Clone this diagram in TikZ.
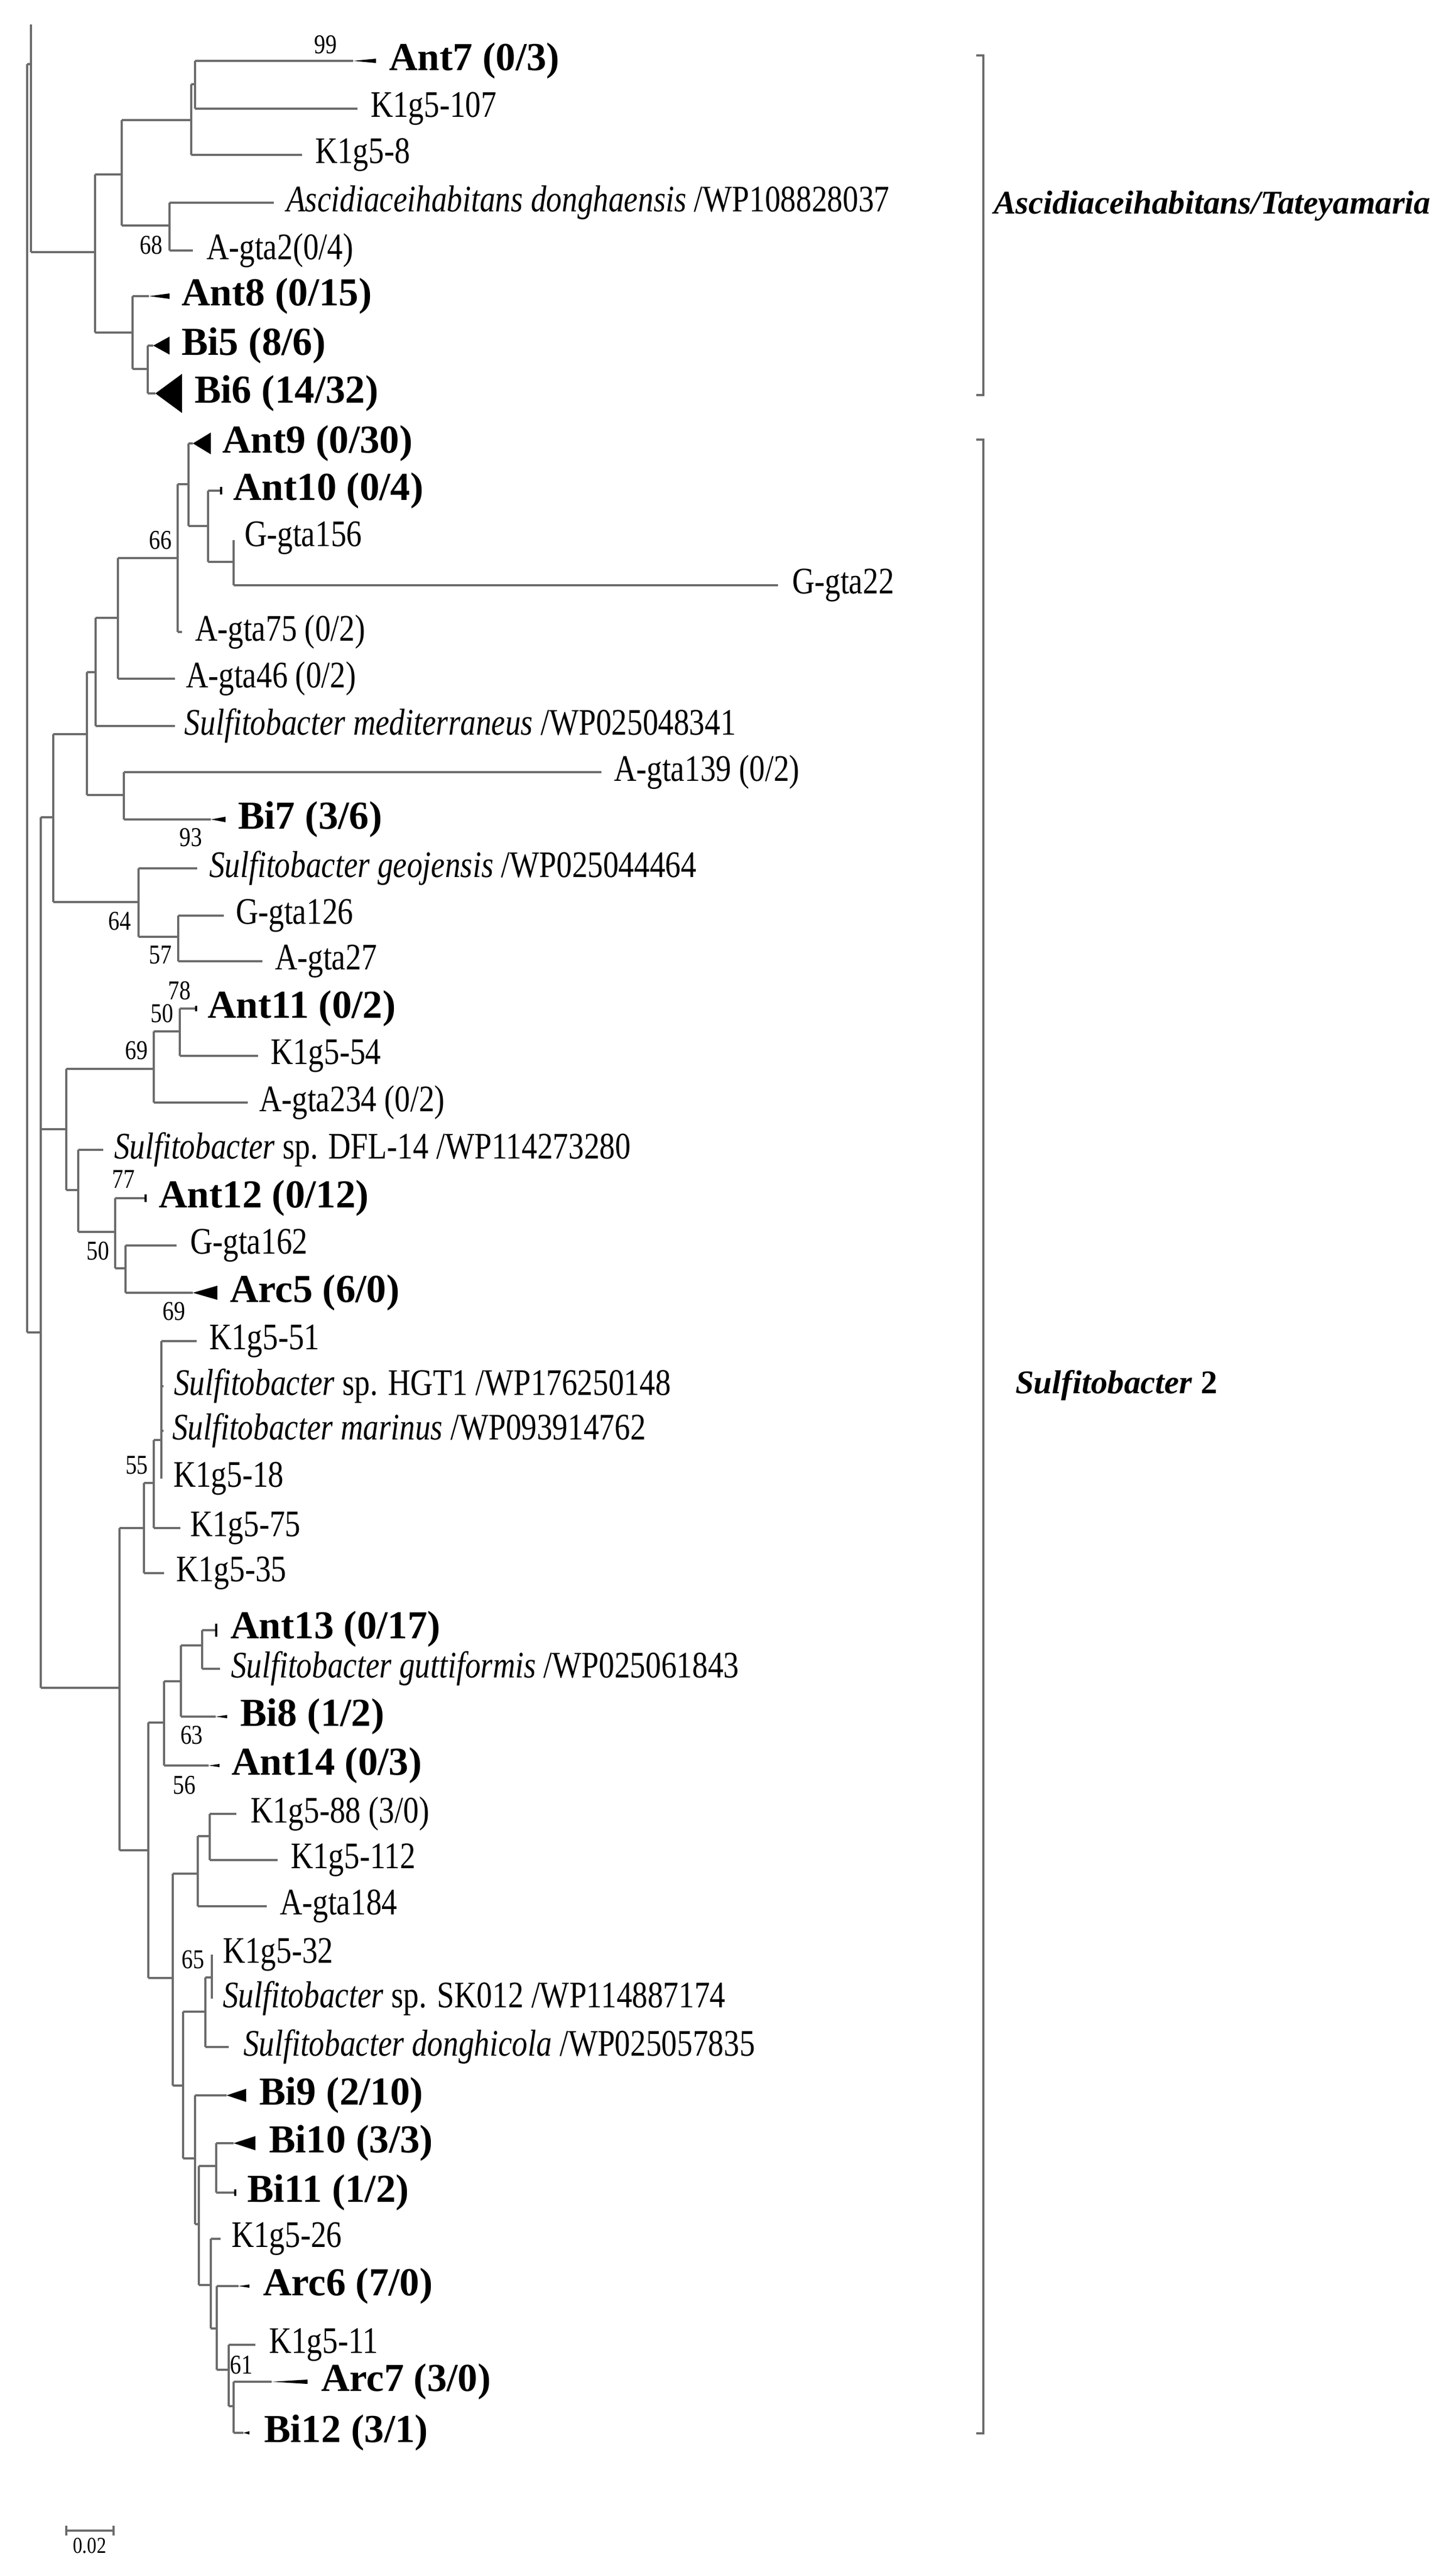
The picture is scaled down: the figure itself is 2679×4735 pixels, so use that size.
\documentclass[tikz,border=0pt]{standalone}
\usepackage{fontspec}
\setmainfont{Liberation Serif}
\newfontfamily\narrowf{Liberation Serif}[FakeStretch=0.83]
\definecolor{brc}{gray}{0.42}
\tikzset{
  br/.style={draw=brc,line width=0.32pt},
  lbl/.style={anchor=west,inner sep=0pt,font=\fontsize{6.9}{7}\narrowf},
  blbl/.style={anchor=west,inner sep=0pt,font=\fontsize{7.3}{8}\selectfont\bfseries},
  boot/.style={inner sep=0pt,font=\fontsize{5}{6}\narrowf},
  clade/.style={anchor=west,inner sep=0pt,font=\fontsize{6.1}{7}\selectfont\bfseries},
}
\newcommand\lf[4]{\node[lbl] (#1) at (#2,#3) {#4};}
\newcommand\bl[4]{\node[blbl] (#1) at (#2,#3) {#4};}
\newcommand\bs[4]{\node[boot] (#1) at (#2,#3) {#4};}
\newcommand\tri[4]{\fill[black] (#1,#3) -- (#2,#3-#4/2) -- (#2,#3+#4/2) -- cycle;}
\newcommand\sfb{\textit{Sulfitobacter}}
\begin{document}
\begin{tikzpicture}[x=0.1pt,y=-0.1pt]
\useasboundingbox (0,0) rectangle (2679,4735);
% root
\draw[br] (50,118)--(50,2452) (50,118)--(57,118) (57,45)--(57,464) (57,464)--(175,464) (50,2452)--(75,2452);
% Ascidiaceihabitans clade
\draw[br] (175,321)--(175,612) (175,321)--(224,321) (224,221)--(224,415) (224,221)--(352,221)
 (352,155)--(352,285) (352,155)--(359,155) (359,112)--(359,200) (359,112)--(650,112)
 (359,200)--(658,200) (352,285)--(556,285) (224,415)--(312,415) (312,373)--(312,461)
 (312,373)--(504,373) (312,461)--(355,461)
 (175,612)--(244,612) (244,545)--(244,679) (244,545)--(274,545) (244,679)--(272,679)
 (272,636)--(272,724) (272,636)--(282,636) (272,724)--(286,724);
\tri{650}{692}{112}{8}\tri{274}{312}{545}{10}\tri{282}{312}{636}{33}\tri{286}{335}{724}{72}
\bl{ant7}{714}{112}{Ant7 (0/3)}
\lf{k107}{680}{200}{K1g5-107}
\lf{k8}{578}{285}{K1g5-8}
\lf{ascd}{525}{373}{\textit{Ascidiaceihabitans donghaensis} /WP108828037}
\lf{ag2}{378}{461}{A-gta2(0/4)}
\bl{ant8}{332}{545}{Ant8 (0/15)}
\bl{bi5}{332}{636}{Bi5 (8/6)}
\bl{bi6}{356}{724}{Bi6 (14/32)}
\bs{b99}{599}{82}{99}
\bs{b68}{278}{451}{68}
% Sulfitobacter 2 clade
\draw[br] (75,1504)--(75,3106) (75,1504)--(98,1504) (75,2078)--(122,2078) (75,3106)--(220,3106)
 (98,1351)--(98,1660) (98,1351)--(160,1351) (98,1660)--(255,1660)
 (160,1237)--(160,1463) (160,1237)--(176,1237) (160,1463)--(228,1463)
 (176,1137)--(176,1336) (176,1137)--(217,1137) (176,1336)--(322,1336)
 (217,1027)--(217,1249) (217,1027)--(327,1027) (217,1249)--(322,1249)
 (327,891)--(327,1163) (327,891)--(347,891) (327,1163)--(335,1163)
 (347,816)--(347,968) (347,816)--(355,816) (347,968)--(383,968)
 (383,903)--(383,1034) (383,903)--(407,903) (383,1034)--(430,1034)
 (430,994)--(430,1077) (430,1077)--(1432,1077)
 (228,1421)--(228,1508) (228,1421)--(1107,1421) (228,1508)--(388,1508)
 (255,1598)--(255,1724) (255,1598)--(363,1598) (255,1724)--(328,1724)
 (328,1685)--(328,1769) (328,1685)--(412,1685) (328,1769)--(483,1769)
 (122,1967)--(122,2190) (122,1967)--(283,1967) (122,2190)--(144,2190)
 (283,1898)--(283,2029) (283,1898)--(331,1898) (283,2029)--(456,2029)
 (331,1856)--(331,1943) (331,1856)--(361,1856) (331,1943)--(475,1943)
 (144,2116)--(144,2267) (144,2116)--(190,2116) (144,2267)--(212,2267)
 (212,2205)--(212,2334) (212,2205)--(268,2205) (212,2334)--(231,2334)
 (231,2292)--(231,2379) (231,2292)--(325,2292) (231,2379)--(355,2379)
 (220,2812)--(220,3405) (220,2812)--(265,2812)
 (265,2729)--(265,2895) (265,2729)--(283,2729) (265,2895)--(302,2895)
 (283,2650)--(283,2812) (283,2650)--(297,2650) (283,2812)--(332,2812)
 (297,2468)--(297,2721) (297,2468)--(362,2468) (297,2551)--(301,2551) (297,2633)--(301,2633)
 (220,3405)--(273,3405) (273,3170)--(273,3640) (273,3170)--(302,3170)
 (302,3094)--(302,3249) (302,3094)--(333,3094) (302,3249)--(384,3249)
 (333,3028)--(333,3159) (333,3028)--(372,3028) (333,3159)--(397,3159)
 (372,3000)--(372,3071) (372,3000)--(398,3000) (372,3071)--(405,3071)
 (273,3640)--(318,3640) (318,3448)--(318,3838) (318,3448)--(364,3448) (318,3838)--(337,3838)
 (364,3379)--(364,3508) (364,3379)--(386,3379) (364,3508)--(491,3508)
 (386,3338)--(386,3423) (386,3338)--(435,3338) (386,3423)--(511,3423)
 (337,3702)--(337,3972) (337,3702)--(378,3702) (337,3972)--(359,3972)
 (378,3639)--(378,3767) (378,3639)--(390,3639) (378,3767)--(421,3767)
 (390,3597)--(390,3678)
 (359,3856)--(359,4093) (359,3856)--(417,3856) (359,4093)--(366,4093)
 (366,3986)--(366,4205) (366,3986)--(398,3986) (366,4205)--(388,4205)
 (398,3944)--(398,4035) (398,3944)--(430,3944) (398,4035)--(433,4035)
 (388,4120)--(388,4285) (388,4120)--(406,4120) (388,4285)--(399,4285)
 (399,4207)--(399,4361) (399,4207)--(439,4207) (399,4361)--(421,4361)
 (421,4315)--(421,4428) (421,4315)--(470,4315) (421,4428)--(430,4428)
 (430,4383)--(430,4477) (430,4383)--(500,4383) (430,4477)--(448,4477);
\draw[black,line width=0.35pt] (407,896)--(407,910) (361,1851)--(361,1861) (268,2198)--(268,2212) (398,2988)--(398,3012) (433,4029)--(433,4041);
\tri{355}{388}{816}{40}\tri{388}{415}{1508}{10}\tri{355}{400}{2379}{26}
\tri{384}{404}{3249}{6}\tri{397}{418}{3159}{6}\tri{417}{453}{3856}{24}
\tri{430}{470}{3944}{26}\tri{439}{459}{4207}{6}\tri{500}{566}{4383}{8}\tri{448}{459}{4477}{6}
\bl{ant9}{407}{816}{Ant9 (0/30)}
\bl{ant10}{427}{903}{Ant10 (0/4)}
\lf{g156}{448}{990}{G-gta156}
\lf{g22}{1456}{1077}{G-gta22}
\lf{a75}{357}{1163}{A-gta75 (0/2)}
\lf{a46}{340}{1249}{A-gta46 (0/2)}
\lf{smed}{338}{1336}{\textit{Sulfitobacter mediterraneus} /WP025048341}
\lf{a139}{1128}{1421}{A-gta139 (0/2)}
\bl{bi7}{436}{1508}{Bi7 (3/6)}
\lf{sgeo}{383}{1598}{\textit{Sulfitobacter geojensis} /WP025044464}
\lf{g126}{432}{1685}{G-gta126}
\lf{a27}{504}{1769}{A-gta27}
\bl{ant11}{380}{1856}{Ant11 (0/2)}
\lf{k54}{496}{1943}{K1g5-54}
\lf{a234}{475}{2029}{A-gta234 (0/2)}
\lf{sdfl}{208}{2116}{\sfb{} sp. DFL-14 /WP114273280}
\bl{ant12}{290}{2205}{Ant12 (0/12)}
\lf{g162}{348}{2292}{G-gta162}
\bl{arc5}{421}{2379}{Arc5 (6/0)}
\lf{k51}{383}{2468}{K1g5-51}
\lf{shgt}{318}{2551}{\sfb{} sp. HGT1 /WP176250148}
\lf{smar}{315}{2633}{\textit{Sulfitobacter marinus} /WP093914762}
\lf{k18}{317}{2721}{K1g5-18}
\lf{k75}{348}{2812}{K1g5-75}
\lf{k35}{322}{2895}{K1g5-35}
\bl{ant13}{422}{2998}{Ant13 (0/17)}
\lf{sgut}{423}{3071}{\textit{Sulfitobacter guttiformis} /WP025061843}
\bl{bi8}{440}{3159}{Bi8 (1/2)}
\bl{ant14}{424}{3249}{Ant14 (0/3)}
\lf{k88}{459}{3338}{K1g5-88 (3/0)}
\lf{k112}{533}{3423}{K1g5-112}
\lf{a184}{513}{3508}{A-gta184}
\lf{k32}{408}{3597}{K1g5-32}
\lf{ssk}{408}{3678}{\sfb{} sp. SK012 /WP114887174}
\lf{sdon}{446}{3767}{\textit{Sulfitobacter donghicola} /WP025057835}
\bl{bi9}{475}{3856}{Bi9 (2/10)}
\bl{bi10}{493}{3944}{Bi10 (3/3)}
\bl{bi11}{453}{4035}{Bi11 (1/2)}
\lf{k26}{424}{4120}{K1g5-26}
\bl{arc6}{482}{4207}{Arc6 (7/0)}
\lf{k11}{493}{4315}{K1g5-11}
\bl{arc7}{589}{4383}{Arc7 (3/0)}
\bl{bi12}{484}{4477}{Bi12 (3/1)}
% bootstrap
\bs{b66}{295}{994}{66}
\bs{b93}{351}{1541}{93}
\bs{b64}{220}{1695}{64}
\bs{b57}{295}{1757}{57}
\bs{b78}{330}{1823}{78}
\bs{b50a}{298}{1865}{50}
\bs{b69a}{251}{1933}{69}
\bs{b77}{227}{2170}{77}
\bs{b50b}{180}{2302}{50}
\bs{b69b}{320}{2413}{69}
\bs{b55}{252}{2696}{55}
\bs{b63}{353}{3193}{63}
\bs{b56}{339}{3285}{56}
\bs{b65}{355}{3606}{65}
\bs{b61}{444}{4352}{61}
% brackets
\draw[br] (1797,102)--(1810,102)--(1810,727)--(1797,727);
\draw[br] (1797,809)--(1810,809)--(1810,4478)--(1797,4478);
\node[clade] (cA) at (1827,379) {\textit{Ascidiaceihabitans/Tateyamaria}};
\node[clade] (cS) at (1867,2549) {\textit{Sulfitobacter} 2};
% scale bar
\draw[br] (122,4657)--(209,4657) (122,4648)--(122,4666) (209,4648)--(209,4666);
\node[boot,font=\fontsize{4.2}{5}\narrowf] (sc) at (165,4685) {0.02};
\end{tikzpicture}
\end{document}
